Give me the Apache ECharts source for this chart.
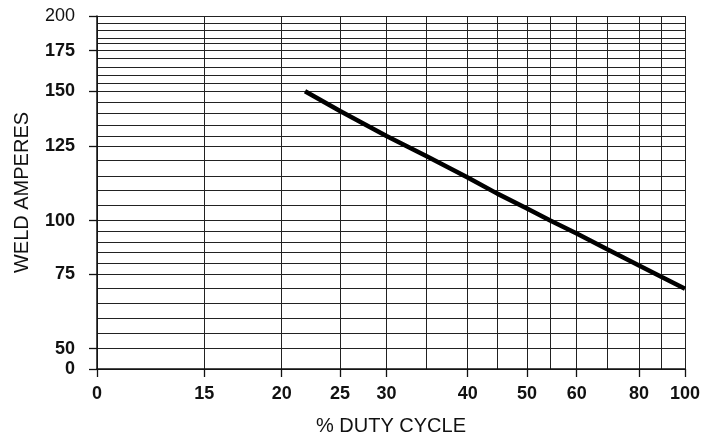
<!DOCTYPE html>
<html><head><meta charset="utf-8">
<script src="https://cdn.jsdelivr.net/npm/echarts@6/dist/echarts.min.js"></script>
<style>html,body{margin:0;padding:0;background:#fff}#c{width:701px;height:441px}</style>
</head><body><div id="c"></div>
<script>
// ---- data ----
const dutyCycle = [22, 25, 30, 35, 40, 45, 50, 55, 60, 70, 80, 90, 100];
const weldAmps  = [150, 141, 130, 121.5, 114.5, 109, 104, 100, 94, 86.5, 79, 74, 70];

// tick labels & grid lines
const xTickLabels = [0, 15, 20, 25, 30, 40, 50, 60, 80, 100];
const xGridValues = [0, 15, 20, 25, 30, 35, 40, 45, 50, 55, 60, 70, 80, 90, 100];
const yTickLabels = [0, 50, 75, 100, 125, 150, 175, 200];
const yGridValues = [0, 50, 55, 60, 65, 70, 75, 80, 85, 90, 95, 100, 105, 110, 115, 120,
                     125, 130, 135, 140, 145, 150, 155, 160, 165, 170, 175, 180, 185, 190, 195, 200];

// the printed chart's non-uniform axis scale (fraction of axis length at each grid value)
const xScaleStops = [0, 0.1825, 0.3141, 0.4133, 0.4923, 0.5607, 0.6304, 0.6808, 0.7313,
                     0.7716, 0.8158, 0.8685, 0.9218, 0.9604, 1];
const yScaleStops = [0, 0.0575, 0.1011, 0.1445, 0.1861, 0.2275, 0.2691, 0.2994, 0.3295,
                     0.3598, 0.3901, 0.4201, 0.4637, 0.5051, 0.5467, 0.5901, 0.6317, 0.6601,
                     0.6904, 0.7244, 0.7564, 0.7867, 0.8093, 0.8320, 0.8547, 0.8790, 0.9017,
                     0.9227, 0.9377, 0.9584, 0.9793, 1];

function makeScale(vals, stops) {
  return function (v) {
    if (v <= vals[0]) return stops[0];
    for (let i = 1; i < vals.length; i++) {
      if (v <= vals[i]) {
        const t = (v - vals[i - 1]) / (vals[i] - vals[i - 1]);
        return stops[i - 1] + t * (stops[i] - stops[i - 1]);
      }
    }
    return stops[stops.length - 1];
  };
}
const xScale = makeScale(xGridValues, xScaleStops);
const yScale = makeScale(yGridValues, yScaleStops);

function nearestLabel(labels, scale, pos) {
  let best = labels[0], bd = Infinity;
  labels.forEach(l => { const d = Math.abs(scale(l) - pos); if (d < bd) { bd = d; best = l; } });
  return best;
}

const INK = '#111';
const GRID = '#222';
const FONT = 'Liberation Sans, Arial, Helvetica, sans-serif';

const chart = echarts.init(document.getElementById('c'), null, {renderer: 'canvas'});
chart.setOption({
  animation: false,
  backgroundColor: '#fff',
  grid: {left: 97, right: 16, top: 16, bottom: 72, containLabel: false, outerBoundsMode: 'none'},
  xAxis: [
    {
      type: 'value', min: 0, max: 1, position: 'bottom',
      name: '% DUTY CYCLE', nameLocation: 'middle', nameGap: 47,
      nameTextStyle: {fontSize: 20, color: INK, fontFamily: FONT},
      axisLine: {show: true, lineStyle: {color: INK, width: 1.5}},
      axisTick: {show: true, length: 8, customValues: xTickLabels.map(xScale), lineStyle: {color: INK, width: 1.3}},
      axisLabel: {
        customValues: xTickLabels.map(xScale), margin: 16,
        fontSize: 18, fontWeight: 'bold', color: INK, fontFamily: FONT,
        formatter: v => String(nearestLabel(xTickLabels, xScale, v))
      },
      splitLine: {show: false}
    },
    {
      type: 'value', min: 0, max: 1, position: 'bottom',
      axisLine: {show: false}, axisLabel: {show: false},
      axisTick: {show: false, customValues: xGridValues.map(xScale)},
      splitLine: {show: true, lineStyle: {color: GRID, width: 1}}
    }
  ],
  yAxis: [
    {
      type: 'value', min: 0, max: 1, position: 'left',
      name: 'WELD AMPERES', nameLocation: 'middle', nameGap: 65,
      nameTextStyle: {fontSize: 20, color: INK, fontFamily: FONT},
      axisLine: {show: true, lineStyle: {color: INK, width: 1.5}},
      axisTick: {show: true, length: 8, customValues: yTickLabels.map(yScale), lineStyle: {color: INK, width: 1.3}},
      axisLabel: {
        customValues: yTickLabels.map(yScale), margin: 22,
        fontSize: 18, fontWeight: 'bold', color: INK, fontFamily: FONT,
        formatter: v => {
          const l = nearestLabel(yTickLabels, yScale, v);
          return l === 200 ? '{n|' + l + '}' : String(l);
        },
        rich: {n: {fontSize: 18, fontWeight: 'normal', color: INK, fontFamily: FONT}}
      },
      splitLine: {show: false}
    },
    {
      type: 'value', min: 0, max: 1, position: 'left',
      axisLine: {show: false}, axisLabel: {show: false},
      axisTick: {show: false, customValues: yGridValues.map(yScale)},
      splitLine: {show: true, lineStyle: {color: GRID, width: 1}}
    }
  ],
  series: [{
    type: 'line',
    xAxisIndex: 0, yAxisIndex: 0,
    data: dutyCycle.map((d, i) => [xScale(d), yScale(weldAmps[i])]),
    showSymbol: false, symbol: 'none',
    lineStyle: {color: '#000', width: 4.5, cap: 'butt'},
    z: 5
  }]
});
</script></body></html>
